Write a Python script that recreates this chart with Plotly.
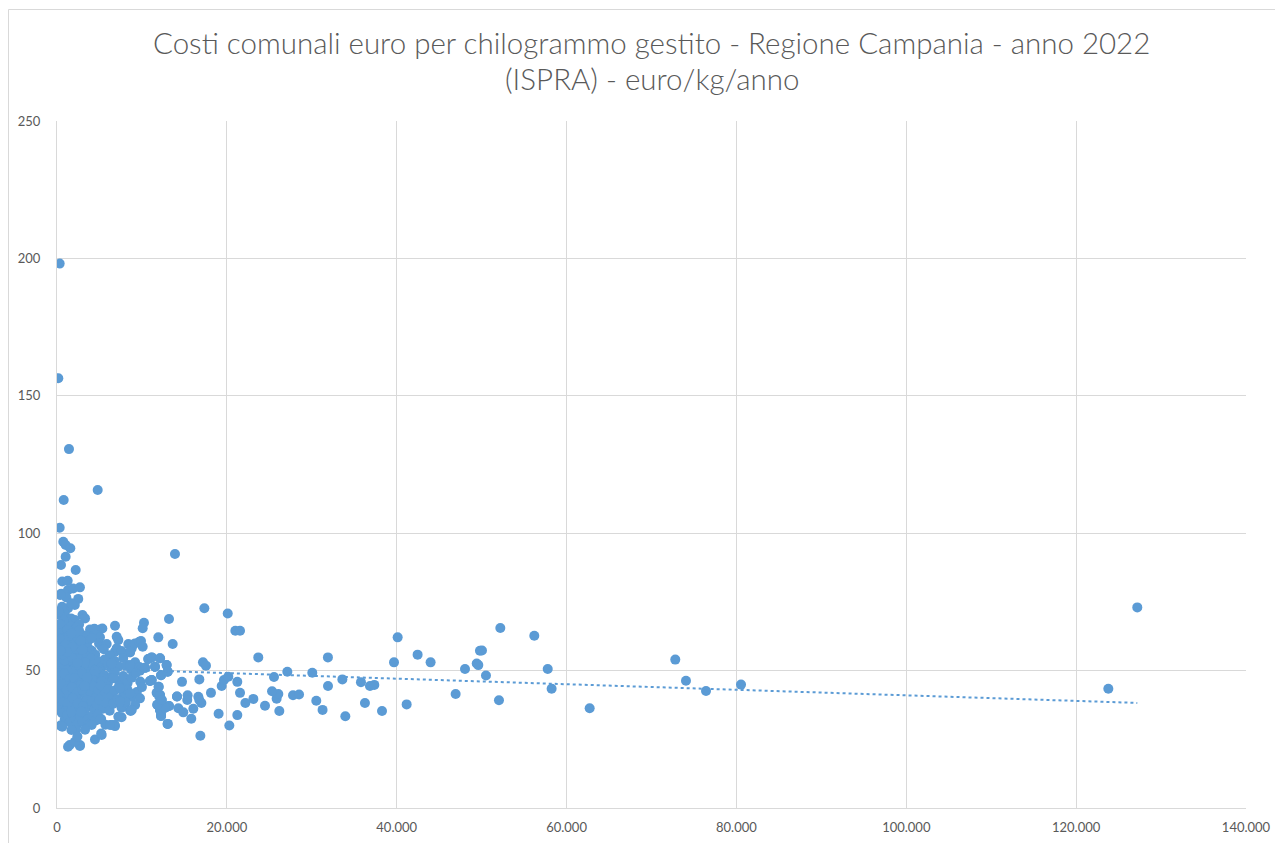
import numpy as np
import plotly.graph_objects as go

# ---- data (x = kg gestiti / anno, in thousands below; y = euro costs) ----
# dense cluster of small municipalities (x in thousands)
dense_x = [
    0.5, 1.3, 1.9, 2.7, 1.1, 2.5, 0.4,
    2.1, 1.3, 0.9, 0.35, 3.0, 3.3, 1.65, 2.1, 0.6, 1.7, 0.2,
    0.15, 0.55, 3.9, 5.06, 5.34, 6.83, 1.2, 0.8, 2.6, 1.6, 0.3, 2.3, 4.4,
    4.67, 5.06, 7.03, 7.22, 0.2, 0.7, 1.1, 1.5, 1.9, 2.4, 2.9, 3.3, 0.4, 0.9, 1.4, 2.0, 3.6, 4.1, 2.6,
    4.95, 5.26, 5.85, 8.4, 8.8, 9.18, 9.69, 6.83, 7.03, 8.6, 0.1, 0.5, 0.9, 1.3, 1.7, 2.1, 2.5, 2.9,
    3.3, 3.7, 4.1, 4.5, 0.3, 1.1, 1.9, 2.7, 3.5, 6.2, 5.5, 7.6,
    0.1, 0.4, 0.7, 1.0, 1.3, 1.6, 1.9, 2.2, 2.5, 2.8, 3.1, 3.4, 3.7, 4.0, 4.3, 4.6, 4.9, 5.2, 5.6,
    6.0, 6.4, 6.8, 7.3, 7.8, 8.2, 8.7, 9.2, 9.7, 10.36, 11.54, 10.75, 11.15, 12.13, 12.91, 0.2, 0.6,
    1.1, 1.5, 2.0, 2.6, 3.3, 0.3, 0.9, 1.8, 2.4, 5.06, 6.44, 8.6, 9.77,
    0.1, 0.4, 0.7, 1.0, 1.3, 1.6, 1.9, 2.2, 2.5, 2.8, 3.1, 3.4, 3.7, 4.0, 4.3, 4.6, 4.9, 5.2, 5.6,
    6.0, 6.4, 6.8, 7.3, 7.8, 8.3, 8.8, 9.3, 9.8, 10.95, 11.15, 12.25, 13.03, 0.25, 0.55, 1.15, 1.75,
    2.35, 2.95, 0.85, 1.45, 2.05, 2.65, 3.55, 4.45, 5.4, 6.63, 5.26,
    0.1, 0.4, 0.7, 1.0, 1.3, 1.6, 1.9, 2.2, 2.5, 2.8, 3.1, 3.4, 3.7, 4.0, 4.3, 4.6, 4.9, 5.2, 5.6,
    6.0, 6.4, 6.8, 7.3, 7.8, 8.3, 8.8, 9.4, 10.0, 11.97, 12.13, 14.13, 0.05, 0.3, 0.9, 1.5, 2.1,
    0.55, 1.15, 1.75, 2.35, 2.95, 3.25, 0.155, 11.73, 12.05, 8.6, 7.42, 9.77,
    0.2, 0.5, 0.8, 1.1, 1.4, 1.7, 2.0, 2.3, 2.6, 2.9, 3.2, 3.5, 3.8, 4.1, 4.4, 4.7, 5.0, 5.4, 5.8,
    6.2, 6.6, 7.1, 7.6, 8.1, 8.6, 9.2, 11.81, 12.33, 12.72, 13.19, 12.13, 1.25, 1.85, 2.45, 3.05,
    0.35, 0.95, 7.42, 8.68, 12.33,
    0.6, 0.9, 1.2, 1.5, 1.8, 2.1, 2.4, 2.7, 3.0, 3.3, 3.6, 3.9, 4.2, 4.5, 4.8, 5.2, 5.7, 6.5, 6.8,
    7.6, 8.8, 12.25, 13.03, 0.4, 1.65, 2.85, 7.22, 5.06, 12.25,
    0.62, 2.24, 1.5, 2.7, 1.3, 2.7, 2.1, 1.7, 4.47, 5.26, 4.08, 5.2, 3.3, 2.4, 6.83, 6.24,
    0.3, 0.8, 1.2, 1.6, 2.2, 0.5, 1.0, 1.4, 1.8, 2.8, 0.7, 1.2, 3.0, 0.4, 1.7,
]
dense_y = [
    78.0, 79.3, 79.9, 80.3, 76.6, 76.1, 77.5,
    73.9, 72.7, 70.8, 70.2, 70.2, 69.0, 69.0, 68.4, 73.2, 74.5, 71.5,
    65.9, 65.3, 65.0, 65.0, 65.3, 66.3, 67.5, 68.2, 66.8, 66.0, 67.0, 65.6, 65.2,
    63.0, 62.1, 62.3, 61.1, 62.5, 63.8, 61.3, 64.2, 62.0, 63.1, 61.0, 62.8, 60.5, 60.2, 60.8, 60.4, 60.5, 61.8, 64.5,
    59.9, 58.7, 59.7, 59.7, 58.1, 59.9, 60.5, 56.9, 58.1, 56.6, 58.0, 59.0, 57.5, 58.8, 56.4, 58.3, 57.0, 59.2,
    56.5, 58.1, 57.2, 55.8, 56.0, 55.5, 55.2, 55.8, 55.1, 55.6, 57.8, 57.1,
    54.5, 53.0, 54.8, 52.5, 54.0, 51.5, 53.2, 51.0, 54.2, 52.3, 50.8, 53.6, 51.8, 54.5, 52.0, 50.5, 53.3, 51.2, 54.0,
    52.5, 50.8, 53.5, 51.5, 54.6, 52.0, 50.4, 53.0, 51.3, 51.0, 51.4, 54.2, 54.8, 54.5, 52.0, 50.5, 51.2,
    50.2, 53.8, 50.6, 50.1, 52.9, 52.0, 53.7, 54.6, 52.8, 50.2, 52.6, 52.0, 50.0,
    49.5, 48.2, 46.5, 49.0, 47.3, 45.5, 48.5, 46.2, 49.7, 47.0, 45.3, 48.8, 46.6, 49.3, 45.8, 47.9, 49.6, 46.4, 48.3,
    45.5, 47.6, 49.4, 46.2, 48.0, 45.4, 47.4, 49.1, 46.0, 46.2, 46.6, 48.3, 49.6, 46.0, 47.6, 45.8, 49.8,
    48.0, 49.0, 48.8, 46.9, 47.2, 45.2, 47.4, 49.9, 47.0, 47.2, 46.0,
    44.5, 42.0, 43.8, 41.2, 44.2, 42.6, 40.5, 43.4, 41.5, 44.8, 42.3, 40.8, 43.6, 41.8, 44.1, 40.3, 42.9, 44.6, 41.4,
    43.2, 40.6, 42.8, 44.4, 41.0, 43.0, 40.4, 42.2, 44.0, 44.1, 41.1, 40.6, 41.0, 40.5, 40.2, 40.9, 41.0,
    44.9, 43.0, 43.9, 42.1, 43.0, 44.4, 41.1, 41.9, 40.5, 41.7, 43.6, 39.9,
    39.5, 37.0, 38.6, 36.2, 39.0, 35.8, 37.8, 39.7, 36.4, 38.3, 35.5, 39.2, 37.0, 38.9, 35.9, 37.6, 39.4, 36.1, 38.2,
    35.4, 37.9, 39.6, 36.5, 38.4, 35.6, 37.5, 37.6, 39.3, 36.5, 37.1, 35.7, 38.0, 39.9, 38.1, 36.9,
    35.5, 35.2, 38.7, 35.3, 38.1,
    34.5, 32.0, 33.8, 31.2, 34.2, 32.6, 30.5, 33.5, 31.5, 34.7, 32.2, 30.6, 33.4, 31.8, 34.0, 32.4, 30.3, 30.2, 30.2,
    33.0, 35.7, 33.5, 30.6, 30.0, 35.0, 35.0, 33.2, 32.3, 34.2,
    29.6, 28.4, 22.9, 22.9, 22.3, 22.6, 24.1, 28.4, 24.9, 26.6, 30.2, 27.1, 28.5, 26.0, 29.8, 30.2,
    63.4, 61.9, 64.8, 59.6, 57.9, 61.5, 59.4, 62.6, 58.6, 60.9, 55.9, 56.8, 57.6, 57.2, 63.5,
]

# high-cost outliers among small municipalities (x in thousands)
outlier_x = [0.315, 0.155, 1.41, 4.79, 0.79, 0.315, 0.74, 1.02, 1.57, 1.02, 0.47, 2.2,
             0.62, 1.26, 13.89]
outlier_y = [198.1, 156.4, 130.6, 115.7, 112.1, 102.0, 96.9, 95.7, 94.5, 91.4, 88.4, 86.6,
             82.4, 82.7, 92.4]

# medium and large municipalities (x in thousands)
sparse_x = [17.35, 20.10, 21.00, 21.55, 13.19, 10.24, 10.09, 11.93, 13.62, 9.89, 10.09, 8.60,
            17.19, 17.54, 23.70, 31.90, 40.11, 42.46, 39.68, 43.99, 49.80, 49.42, 48.04,
            27.12, 30.06, 25.55, 33.60, 31.91, 35.79, 36.85, 37.36, 46.94, 41.17, 38.27,
            36.26, 33.95, 31.27, 30.53, 27.79, 28.50, 26.18, 25.86, 26.06, 25.32, 24.49,
            23.12, 22.18, 21.55, 21.23, 21.23, 20.29, 19.03, 19.39, 19.66, 20.17, 18.13,
            16.76, 17.00, 16.64, 16.76, 16.05, 15.81, 16.88, 15.38, 15.34, 14.72, 14.13,
            14.29, 14.87, 13.03, 12.25, 12.13, 13.19, 12.72, 11.81, 12.13, 11.97, 12.33,
            11.15, 10.95, 12.25, 12.91, 13.03, 10.75, 11.15, 12.13, 11.54, 10.36,
            49.61, 50.04, 50.51, 52.20, 52.04, 56.20, 57.78, 58.24, 62.72, 72.80, 74.06,
            76.42, 80.54, 127.20, 123.79]
sparse_y = [72.7, 70.8, 64.5, 64.5, 68.8, 67.4, 65.4, 62.1, 59.7, 60.8, 58.7, 56.9,
            53.0, 51.8, 54.8, 54.8, 62.1, 55.8, 53.0, 53.0, 57.2, 52.6, 50.6,
            49.6, 49.2, 47.7, 46.8, 44.4, 45.8, 44.4, 44.8, 41.5, 37.7, 35.3,
            38.2, 33.4, 35.7, 39.0, 41.0, 41.3, 35.3, 39.8, 41.5, 42.5, 37.2,
            39.7, 38.2, 41.9, 45.9, 33.8, 30.0, 34.3, 44.4, 46.6, 47.8, 41.9,
            46.8, 38.2, 40.5, 39.3, 36.1, 32.5, 26.3, 41.0, 39.3, 45.9, 40.6,
            36.3, 34.8, 30.6, 33.5, 35.7, 37.1, 36.5, 37.6, 41.1, 44.1, 39.3,
            46.6, 46.2, 48.3, 52.0, 49.6, 54.2, 54.8, 54.5, 51.4, 51.0,
            52.0, 57.3, 48.2, 65.5, 39.2, 62.7, 50.6, 43.4, 36.3, 54.0, 46.3,
            42.6, 44.9, 73.0, 43.4]

x_tick_vals = [0, 20000, 40000, 60000, 80000, 100000, 120000, 140000]
x_tick_text = ["0", "20.000", "40.000", "60.000", "80.000", "100.000", "120.000", "140.000"]
y_tick_vals = [0, 50, 100, 150, 200, 250]

title_lines = ["Costi comunali euro per chilogrammo gestito - Regione Campania - anno 2022",
               "(ISPRA) - euro/kg/anno"]

# ---- build ----
xs = np.array(dense_x + outlier_x + sparse_x) * 1000.0
ys = np.array(dense_y + outlier_y + sparse_y)

slope, intercept = np.polyfit(xs, ys, 1)
tx = np.array([0.0, xs.max()])
ty = intercept + slope * tx

BLUE = "#5B9BD5"
GRID = "#D9D9D9"
TXT = "#595959"
TITLE_FONT = "'Lato Light', Lato, 'Open Sans', sans-serif"
TICK_FONT = "Lato, 'Open Sans', sans-serif"

# page body has an 8px margin; figure is placed at (8, 8)
W, H = 1275, 835
L, T = 49, 113
R = W - 1238
B = H - 800
pw, ph = W - L - R, H - T - B

def px_to_paper_x(px):
    return (px - L) / pw

def px_to_paper_y(py):
    return (H - B - py) / ph

fig = go.Figure()
fig.add_trace(go.Scatter(
    x=xs, y=ys, mode="markers",
    marker=dict(color=BLUE, size=10, line=dict(width=0)),
    hoverinfo="x+y", showlegend=False,
))
fig.add_trace(go.Scatter(
    x=tx, y=ty, mode="lines",
    line=dict(color=BLUE, width=2, dash="dot"),
    hoverinfo="skip", showlegend=False,
))

title_centers_px = [35, 70]  # figure-pixel vertical centres of the two title lines
annotations = [
    dict(text=line, xref="paper", yref="paper", x=0.5, y=px_to_paper_y(cy),
         xanchor="center", yanchor="middle", showarrow=False,
         font=dict(size=29.5, color=TXT, family=TITLE_FONT))
    for line, cy in zip(title_lines, title_centers_px)
]

fig.update_layout(
    width=W, height=H,
    margin=dict(l=L, r=R, t=T, b=B, autoexpand=False),
    paper_bgcolor="white", plot_bgcolor="white",
    font=dict(family=TICK_FONT, color=TXT, size=13),
    annotations=annotations,
    xaxis=dict(range=[0, 140000], tickvals=x_tick_vals, ticktext=x_tick_text,
               showgrid=True, gridcolor=GRID, gridwidth=1,
               showline=True, linecolor=GRID, linewidth=1, mirror=False,
               zeroline=False, ticks="", ticklabelstandoff=7,
               tickfont=dict(size=13, color=TXT, family=TICK_FONT)),
    yaxis=dict(range=[0, 250], tickvals=y_tick_vals,
               showgrid=True, gridcolor=GRID, gridwidth=1,
               showline=True, linecolor=GRID, linewidth=1,
               zeroline=False, ticks="", ticklabelstandoff=13,
               tickfont=dict(size=13, color=TXT, family=TICK_FONT)),
    shapes=[dict(type="rect", xref="paper", yref="paper",
                 x0=px_to_paper_x(0.5), x1=px_to_paper_x(1400),
                 y0=px_to_paper_y(900), y1=px_to_paper_y(1.5),
                 line=dict(color=GRID, width=1), fillcolor="rgba(0,0,0,0)", layer="below")],
)

fig.write_html("out.html")
